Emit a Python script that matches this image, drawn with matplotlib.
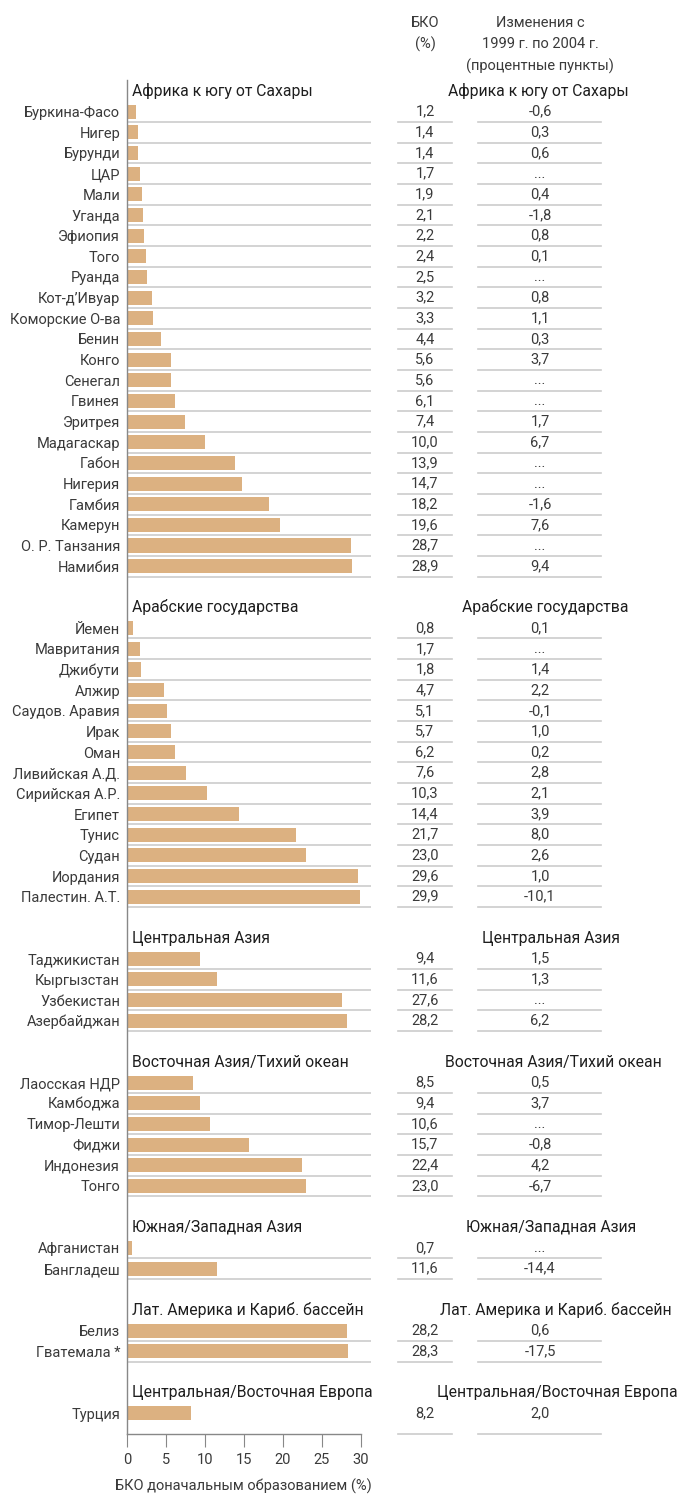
import matplotlib

matplotlib.use("Agg")
import matplotlib.pyplot as plt
from matplotlib import font_manager
from matplotlib.transforms import blended_transform_factory

# --- data -------------------------------------------------------------
regions = [
    "Африка к югу от Сахары",
    "Арабские государства",
    "Центральная Азия",
    "Восточная Азия/Тихий океан",
    "Южная/Западная Азия",
    "Лат. Америка и Кариб. бассейн",
    "Центральная/Восточная Европа",
]

countries = [
    ["Буркина-Фасо", "Нигер", "Бурунди", "ЦАР", "Мали", "Уганда", "Эфиопия",
     "Того", "Руанда", "Кот-д’Ивуар", "Коморские О-ва", "Бенин", "Конго",
     "Сенегал", "Гвинея", "Эритрея", "Мадагаскар", "Габон", "Нигерия",
     "Гамбия", "Камерун", "О. Р. Танзания", "Намибия"],
    ["Йемен", "Мавритания", "Джибути", "Алжир", "Саудов. Аравия", "Ирак",
     "Оман", "Ливийская А.Д.", "Сирийская А.Р.", "Египет", "Тунис", "Судан",
     "Иордания", "Палестин. А.Т."],
    ["Таджикистан", "Кыргызстан", "Узбекистан", "Азербайджан"],
    ["Лаосская НДР", "Камбоджа", "Тимор-Лешти", "Фиджи", "Индонезия", "Тонго"],
    ["Афганистан", "Бангладеш"],
    ["Белиз", "Гватемала *"],
    ["Турция"],
]

gpe = [
    [1.2, 1.4, 1.4, 1.7, 1.9, 2.1, 2.2, 2.4, 2.5, 3.2, 3.3, 4.4, 5.6, 5.6,
     6.1, 7.4, 10.0, 13.9, 14.7, 18.2, 19.6, 28.7, 28.9],
    [0.8, 1.7, 1.8, 4.7, 5.1, 5.7, 6.2, 7.6, 10.3, 14.4, 21.7, 23.0, 29.6, 29.9],
    [9.4, 11.6, 27.6, 28.2],
    [8.5, 9.4, 10.6, 15.7, 22.4, 23.0],
    [0.7, 11.6],
    [28.2, 28.3],
    [8.2],
]

# None = no data ("...")
change = [
    [-0.6, 0.3, 0.6, None, 0.4, -1.8, 0.8, 0.1, None, 0.8, 1.1, 0.3, 3.7,
     None, None, 1.7, 6.7, None, None, -1.6, 7.6, None, 9.4],
    [0.1, None, 1.4, 2.2, -0.1, 1.0, 0.2, 2.8, 2.1, 3.9, 8.0, 2.6, 1.0, -10.1],
    [1.5, 1.3, None, 6.2],
    [0.5, 3.7, None, -0.8, 4.2, -6.7],
    [None, -14.4],
    [0.6, -17.5],
    [2.0],
]

# x centre (px) of the region title in the right-hand table
right_title_x = [538, 545, 551, 553, 551, 556, 557]

xticks = [0, 5, 10, 15, 20, 25, 30]

# --- font -------------------------------------------------------------
available = {f.name for f in font_manager.fontManager.ttflist}
family = "DejaVu Sans"
for cand in ["Roboto", "Liberation Sans"]:
    if cand in available:
        family = cand
        break
plt.rcParams["font.family"] = [family, "DejaVu Sans"]

W, H = 678, 1499
BAR = "#dcb181"
SEP = "#cccccc"
TXT = "#3a3a3a"
HEAD = "#1e1e1e"
FS = 10.5
FS_HEAD = 11.3


def fmt(v):
    if v is None:
        return "..."
    return f"{v:.1f}".replace(".", ",")


# --- layout in row slots ----------------------------------------------
header_y = []
row_y, row_names, row_vals, row_chg = [], [], [], []
slot = 0
for gi in range(len(regions)):
    if gi > 0:
        slot += 1  # blank row between groups
    header_y.append(slot)
    slot += 1
    for name, v, c in zip(countries[gi], gpe[gi], change[gi]):
        row_y.append(slot)
        row_names.append(name)
        row_vals.append(v)
        row_chg.append(c)
        slot += 1

step = 20.66  # px per slot
top_px = 91 - 0.55 * step
bottom_px = 1434
ax_left, ax_right = 127, 371.3

fig = plt.figure(figsize=(W / 100, H / 100), dpi=100)
ax = fig.add_axes([ax_left / W, 1 - bottom_px / H,
                   (ax_right - ax_left) / W, (bottom_px - top_px) / H])
ymax = (bottom_px - 91) / step
ax.set_ylim(ymax, -0.55)
ax.set_xlim(0, 30 * (ax_right - ax_left) / (361 - ax_left))

ax.barh(row_y, row_vals, height=0.68, color=BAR, zorder=2)

ax.set_yticks(row_y)
ax.set_yticklabels(row_names, fontsize=FS, color=TXT)
ax.tick_params(axis="y", length=0, pad=5)
ax.set_xticks(xticks)
ax.set_xticklabels([str(t) for t in xticks], fontsize=FS, color=TXT)
ax.tick_params(axis="x", length=9, width=0.8, color="#888888", pad=5)

for s in ["top", "right"]:
    ax.spines[s].set_visible(False)
for s in ["left", "bottom"]:
    ax.spines[s].set_color("#888888")
    ax.spines[s].set_linewidth(1.0)
ax.spines["bottom"].set_bounds(0, 30)

# separators under each row (the last row closes on the axis line)
trans = blended_transform_factory(fig.transFigure, ax.transData)
row_trans = blended_transform_factory(ax.transAxes, ax.transData)
for i, y in enumerate(row_y):
    last = i == len(row_y) - 1
    ys = ymax if last else y + 0.5
    if not last:
        ax.plot([0, 1], [ys, ys], transform=row_trans,
                color=SEP, lw=1.2, zorder=1)
    for x0, x1 in [(398, 452), (478, 601)]:
        ax.plot([x0 / W, x1 / W], [ys, ys], transform=trans,
                color=SEP, lw=1.2, clip_on=False)

# table values
for y, v, c in zip(row_y, row_vals, row_chg):
    ax.text(425 / W, y, fmt(v), transform=trans, ha="center", va="center",
            fontsize=FS, color=TXT, clip_on=False)
    ax.text(540 / W, y, fmt(c), transform=trans, ha="center", va="center",
            fontsize=FS, color=TXT, clip_on=False)

# region titles
for gi, y in enumerate(header_y):
    ax.text(132 / W, y, regions[gi], transform=trans, ha="left", va="center",
            fontsize=FS_HEAD, color=HEAD, clip_on=False)
    ax.text(right_title_x[gi] / W, y, regions[gi], transform=trans,
            ha="center", va="center", fontsize=FS_HEAD, color=HEAD, clip_on=False)

# column headings
fig.text(425 / W, 1 - 34 / H, "БКО\n(%)", ha="center", va="center",
         fontsize=FS, color=TXT, linespacing=1.6)
fig.text(540 / W, 1 - 45 / H, "Изменения с\n1999 г. по 2004 г.\n(процентные пункты)",
         ha="center", va="center", fontsize=FS, color=TXT, linespacing=1.6)

fig.text(243 / W, 1 - 1486 / H, "БКО доначальным образованием (%)",
         ha="center", va="center", fontsize=FS, color=TXT)

fig.savefig("out.png", dpi=100, facecolor="white")
